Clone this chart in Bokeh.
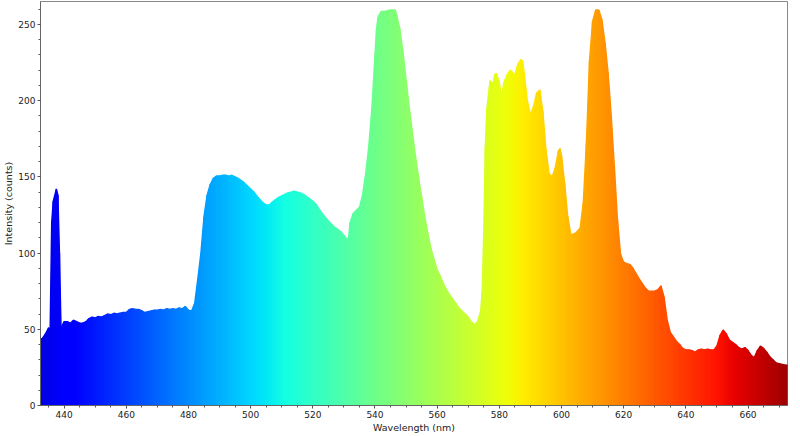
import numpy as np
from bokeh.plotting import figure
from bokeh.models import SingleIntervalTicker, Range1d, ColumnDataSource
from bokeh.embed import file_html
from bokeh.resources import INLINE

# ---------------- data ----------------
wavelength_nm = [
    432, 433, 434, 435, 435.5, 436, 436.5, 437, 437.5, 438, 438.5, 439,
    440, 441, 442, 443, 444, 445, 446, 447, 448, 449, 450, 451, 452, 453, 454,
    455, 456, 457, 458, 459, 460, 461, 462, 463, 464, 465, 466, 467, 468, 469,
    470, 471, 472, 473, 474, 475, 476, 477, 478, 479, 480, 481, 482, 483, 484,
    485, 486, 487, 488, 489, 490, 491, 492, 493, 494, 495, 496, 497, 498, 499,
    500, 501, 502, 503, 504, 505, 506, 507, 508, 509, 510, 511, 512, 513, 514,
    515, 516, 517, 518, 519, 520, 521, 522, 523, 524, 525, 526, 527, 528, 529,
    530, 531, 531.5, 532, 533, 534, 535, 536, 537, 538, 539, 540, 540.5, 541,
    542, 543, 544, 545, 546, 546.5, 547, 548, 549, 550, 551, 552, 553, 554,
    555, 556, 557, 558, 559, 560, 561, 562, 563, 564, 565, 566, 567, 568, 569,
    570, 571, 572, 573, 574, 574.5, 575, 575.5, 576, 577, 578, 578.5, 579, 580,
    580.7, 581.5, 582.5, 583.5, 584.5, 585, 586, 587, 587.5, 588, 589, 590, 591,
    592, 593, 594, 595, 596, 597, 598, 599, 599.5, 600, 601, 602, 603, 604, 605,
    606, 607, 608, 609, 610, 611, 612, 613, 614, 615, 616, 617, 618, 619, 620,
    621, 622, 623, 624, 625, 626, 627, 628, 629, 630, 631, 632, 633, 634, 635,
    636, 637, 638, 639, 640, 641, 642, 643, 644, 645, 646, 647, 648, 649, 650,
    651, 652, 653, 654, 655, 656, 657, 658, 659, 660, 661, 662, 663, 664, 665,
    666, 667, 668, 669, 670, 671, 672, 673,
]

intensity_counts = [
    43, 44, 47, 51, 50, 120, 134, 138, 142, 138, 100, 51,
    55, 55, 54, 56, 55, 54, 54, 55, 57, 58, 57.5, 58.5, 58, 59, 60,
    59.5, 60.5, 60, 60.5, 61, 61, 63, 63.5, 63, 63, 62, 61, 61.5, 62, 62.5,
    62.5, 63, 62.5, 63.5, 63, 63.5, 63, 64, 63.5, 65, 62.5, 62, 67, 83, 100,
    124, 138, 145, 149, 150.5, 150.5, 151, 151, 150.5, 151, 150, 149, 147.5, 146, 144,
    142, 140, 137.5, 135, 133, 131.5, 131.5, 133.5, 135, 136.5, 137.5, 138.5, 139.5, 140, 140.5,
    140, 139.5, 138.5, 137, 135.5, 134, 132, 129, 126, 123.5, 121, 119, 117, 115.5, 114,
    111.5, 109, 110, 120, 126, 128, 130, 138, 152, 170, 195, 230, 247, 255,
    258.5, 258.5, 259, 259.5, 259.5, 259.5, 256, 247, 232, 214, 196, 180, 164, 150,
    137, 124, 113, 103, 96, 89, 85, 80, 76, 72.5, 70, 67, 64, 62, 60,
    58, 55, 53, 55, 62, 75, 115, 170, 195, 213, 211, 217, 218, 212,
    203, 212, 217, 220, 218, 217, 224, 227, 226, 218, 200, 191, 196,
    205, 207, 193, 168, 152, 150, 156, 167, 168.5, 164, 146, 124, 112, 112.5, 114,
    116.5, 133, 172, 226, 252, 259.5, 259.5, 253, 238, 218, 190, 157, 122, 99, 94,
    93, 92.5, 90, 86.5, 83, 80, 77, 75, 75, 75, 76, 78.5, 71, 56, 48,
    45, 42, 40, 37.5, 36.5, 36.5, 36, 35, 36.5, 37, 36.5, 37, 36.5, 36.5, 39,
    46, 49.5, 47, 43, 41.5, 40, 38, 37, 38, 36, 33, 31.5, 36, 39, 37.5,
    35, 32, 30, 28, 27.5, 27, 26.5, 26.4,
]

x_ticks_step = 20
y_ticks_step = 50


# ---------------- jet colour map (style) ----------------
def jet(t):
    r = np.interp(t, [0, 0.35, 0.66, 0.89, 1], [0, 0, 1, 1, 0.5])
    g = np.interp(t, [0, 0.125, 0.375, 0.64, 0.91, 1], [0, 0, 1, 1, 0, 0])
    b = np.interp(t, [0, 0.11, 0.34, 0.65, 1], [0.5, 1, 1, 0, 0])
    return "#%02x%02x%02x" % (int(round(r * 255)), int(round(g * 255)), int(round(b * 255)))


CMIN, CMAX = 410.0, 680.0

xs, ys, cols = [], [], []
for i in range(len(wavelength_nm) - 1):
    x0, x1 = wavelength_nm[i], wavelength_nm[i + 1]
    y0, y1 = intensity_counts[i], intensity_counts[i + 1]
    xs.append([x0, x0, x1, x1])
    ys.append([0, y0, y1, 0])
    cols.append(jet(((x0 + x1) / 2 - CMIN) / (CMAX - CMIN)))

src = ColumnDataSource(dict(xs=xs, ys=ys, color=cols))

FONT = "DejaVu Sans"

p = figure(width=792, frame_height=404, output_backend="svg", toolbar_location=None,
           x_range=Range1d(432.4, 672.7), y_range=Range1d(0, 265),
           min_border_left=0, min_border_right=5, min_border_top=1, min_border_bottom=0)

p.patches("xs", "ys", source=src, fill_color="color", line_color="color", line_width=1.4)

p.xgrid.visible = False
p.ygrid.visible = False
p.background_fill_color = "white"
p.border_fill_color = "white"
p.outline_line_color = "#888888"
p.outline_line_width = 1

p.xaxis.ticker = SingleIntervalTicker(interval=x_ticks_step, num_minor_ticks=4)
p.yaxis.ticker = SingleIntervalTicker(interval=y_ticks_step, num_minor_ticks=5)

for ax in (p.xaxis[0], p.yaxis[0]):
    ax.axis_line_color = "#666666"
    ax.major_tick_line_color = "#555555"
    ax.minor_tick_line_color = "#555555"
    ax.major_tick_out = 3
    ax.major_tick_in = 0
    ax.minor_tick_out = 2
    ax.minor_tick_in = 0
    ax.major_label_text_font = FONT
    ax.major_label_text_font_size = "9px"
    ax.major_label_text_color = "#222222"
    ax.axis_label_text_font = FONT
    ax.axis_label_text_font_size = "9.5px"
    ax.axis_label_text_font_style = "normal"
    ax.axis_label_text_color = "#222222"
    ax.major_label_standoff = 2
    ax.axis_label_standoff = 1

p.xaxis.axis_label = "Wavelength (nm)"
p.yaxis.axis_label = "Intensity (counts)"

open("out.html", "w").write(file_html(p, INLINE))
